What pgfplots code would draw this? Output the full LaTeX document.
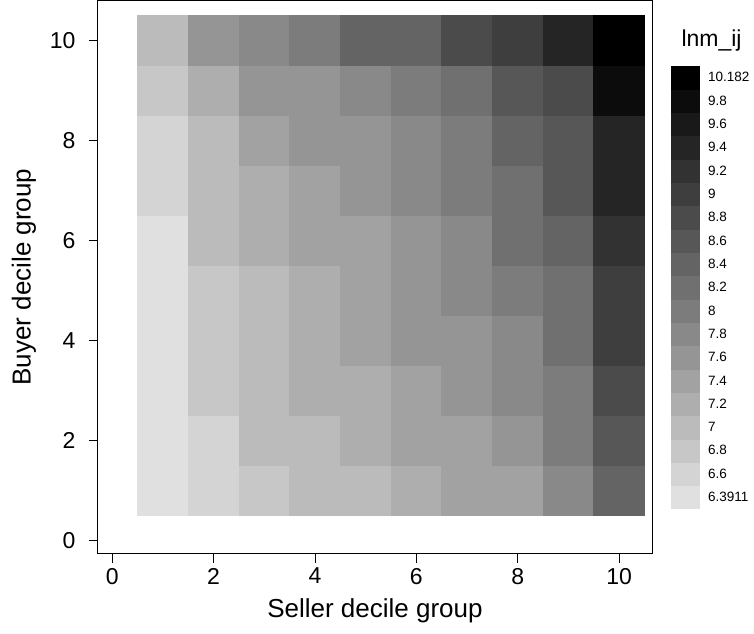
\documentclass[border=0pt]{standalone}
\usepackage{pgfplots}
\pgfplotsset{compat=1.18}
\usepackage{pgfplotstable}
\usepackage{fontspec}
\setmainfont{Liberation Sans}

\pgfplotstableread{
x y z
1 1 6.3911
2 1 6.69
3 1 6.89
4 1 7.09
5 1 7.09
6 1 7.29
7 1 7.49
8 1 7.49
9 1 7.89
10 1 8.49
1 2 6.45
2 2 6.69
3 2 7.09
4 2 7.09
5 2 7.29
6 2 7.49
7 2 7.49
8 2 7.69
9 2 8.09
10 2 8.69
1 3 6.45
2 3 6.89
3 3 7.09
4 3 7.29
5 3 7.29
6 3 7.49
7 3 7.69
8 3 7.89
9 3 8.09
10 3 8.89
1 4 6.45
2 4 6.89
3 4 7.09
4 4 7.29
5 4 7.49
6 4 7.69
7 4 7.69
8 4 7.89
9 4 8.29
10 4 9.08
1 5 6.45
2 5 6.89
3 5 7.09
4 5 7.29
5 5 7.49
6 5 7.69
7 5 7.89
8 5 8.09
9 5 8.29
10 5 9.08
1 6 6.45
2 6 7.09
3 6 7.29
4 6 7.49
5 6 7.49
6 6 7.69
7 6 7.89
8 6 8.29
9 6 8.49
10 6 9.28
1 7 6.69
2 7 7.09
3 7 7.29
4 7 7.49
5 7 7.69
6 7 7.89
7 7 8.09
8 7 8.29
9 7 8.69
10 7 9.48
1 8 6.69
2 8 7.09
3 8 7.49
4 8 7.69
5 8 7.69
6 8 7.89
7 8 8.09
8 8 8.49
9 8 8.69
10 8 9.48
1 9 6.89
2 9 7.29
3 9 7.69
4 9 7.69
5 9 7.89
6 9 8.09
7 9 8.29
8 9 8.69
9 9 8.89
10 9 9.88
1 10 7.09
2 10 7.69
3 10 7.89
4 10 8.09
5 10 8.49
6 10 8.49
7 10 8.89
8 10 9.08
9 10 9.48
10 10 10.182
}\lnmdata

\begin{document}
\begin{tikzpicture}
\begin{axis}[
  name=main,
  scale only axis,
  width=554pt, height=553pt,
  xmin=-0.28, xmax=10.65,
  ymin=-0.26, ymax=10.8,
  xtick={0,2,4,6,8,10},
  ytick={0,2,4,6,8,10},
  tick pos=left,
  tick align=outside,
  major tick length=9pt,
  axis line style={line width=1pt},
  every tick/.style={black, line width=0.8pt},
  /pgf/number format/assume math mode=true,
  tick label style={font=\fontsize{23}{23}\selectfont},
  xticklabel style={yshift=-2pt},
  yticklabel style={xshift=-10pt},
  label style={font=\fontsize{26}{26}\selectfont},
  xlabel={Seller decile group},
  ylabel={Buyer decile group},
  xlabel style={yshift=-7pt},
  ylabel style={yshift=7pt},
  colormap={lnm}{rgb255=(224,224,224) rgb255=(212,212,212) rgb255=(199,199,199)
    rgb255=(187,187,187) rgb255=(174,174,174) rgb255=(162,162,162) rgb255=(149,149,149)
    rgb255=(137,137,137) rgb255=(124,124,124) rgb255=(112,112,112) rgb255=(100,100,100)
    rgb255=(87,87,87) rgb255=(75,75,75) rgb255=(62,62,62) rgb255=(50,50,50)
    rgb255=(37,37,37) rgb255=(25,25,25) rgb255=(12,12,12) rgb255=(0,0,0)},
  colormap access=piecewise constant,
  point meta min=6.3911, point meta max=10.182,
  colorbar,
  colorbar style={
    at={(main.north east)}, anchor=north west,
    xshift=10pt, yshift=-65pt,
    scale only axis,
    width=29pt, height=443pt,
    axis line style={draw=none},
    ytick={6.4909,6.6904,6.8899,7.0894,7.2890,7.4885,7.6880,7.8875,8.0871,8.2866,8.4861,8.6856,8.8852,9.0847,9.2842,9.4837,9.6833,9.8828,10.0823},
    yticklabels={6.3911,6.6,6.8,7,7.2,7.4,7.6,7.8,8,8.2,8.4,8.6,8.8,9,9.2,9.4,9.6,9.8,10.182},
    major tick length=0pt,
    yticklabel pos=right,
    yticklabel style={font=\fontsize{13.5}{13.5}\selectfont, anchor=west, xshift=5pt},
    title={lnm\_ij},
    title style={at={(0.5,1)}, anchor=south, yshift=4.5pt, xshift=26.5pt, font=\fontsize{23}{23}\selectfont},
  },
]
\addplot[scatter, only marks, mark=square*, mark size=25pt,
  point meta=explicit,
  scatter/use mapped color={draw=mapped color, fill=mapped color},
  every mark/.append style={xscale=1.0137, line width=0.5pt}]
  table[x=x, y=y, meta=z] {\lnmdata};
\end{axis}
\pgfresetboundingbox
\useasboundingbox ([xshift=-98pt,yshift=-80pt]main.south west) rectangle ([xshift=102pt,yshift=0.6pt]main.north east);
\end{tikzpicture}
\end{document}
